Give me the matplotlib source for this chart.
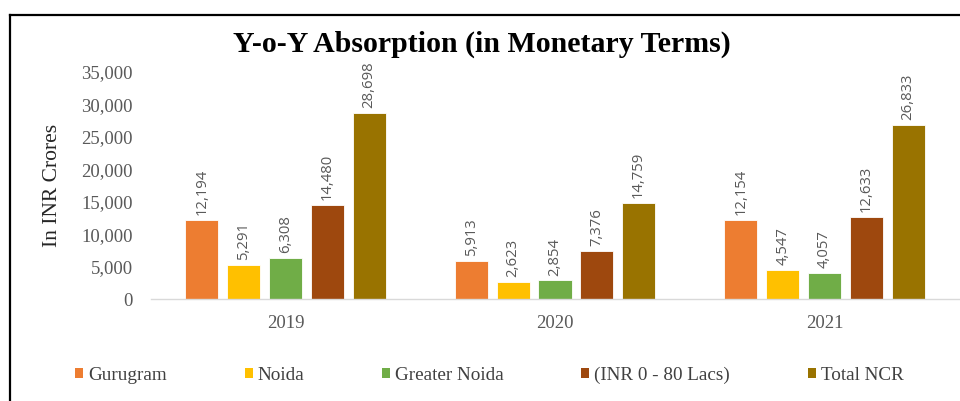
import matplotlib
matplotlib.use('Agg')
import matplotlib.pyplot as plt
from matplotlib.lines import Line2D
from matplotlib.patches import Patch
from matplotlib.ticker import FuncFormatter
import numpy as np

# chart data
years = ['2019', '2020', '2021']
series_names = ['Gurugram', 'Noida', 'Greater Noida', '(INR 0 - 80 Lacs)', 'Total NCR']
gurugram = [12194, 5913, 12154]
noida = [5291, 2623, 4547]
greater_noida = [6308, 2854, 4057]
inr_0_80 = [14480, 7376, 12633]
total_ncr = [28698, 14759, 26833]
colors = ['#ED7D31', '#FFC000', '#70AD47', '#9E480E', '#997300']

all_series = [gurugram, noida, greater_noida, inr_0_80, total_ncr]

serif = ['Liberation Serif', 'DejaVu Serif']
label_gray = '#595959'

fig = plt.figure(figsize=(9.6, 4.01), dpi=100)
ax = fig.add_axes([150.75 / 960, 1 - 299 / 401, 808.5 / 960, 227 / 401])

x = np.arange(len(years))
step = 0.155
width = 0.1225
for i, (name, vals, col) in enumerate(zip(series_names, all_series, colors)):
    pos = x + (i - 2) * step
    bars = ax.bar(pos, vals, width, color=col, edgecolor='white', linewidth=0.6, label=name)
    for b, v in zip(bars, vals):
        ax.annotate(f'{v:,}', (b.get_x() + b.get_width() / 2, v),
                    xytext=(0, 3.5), textcoords='offset points',
                    ha='center', va='bottom', rotation=90,
                    fontsize=10.7, color=label_gray, family=['Open Sans', 'DejaVu Sans'])

ax.set_xlim(-0.5, 2.5)
ax.set_ylim(0, 35000)
ax.set_yticks(range(0, 35001, 5000))
ax.yaxis.set_major_formatter(FuncFormatter(lambda v, p: f'{int(v):,}'))
ax.set_xticks(x)
ax.set_xticklabels(years)
ax.tick_params(axis='both', length=0, labelsize=13.5, labelcolor=label_gray)
ax.tick_params(axis='y', pad=12.8)
ax.tick_params(axis='x', pad=11.5)
for lbl in ax.get_xticklabels() + ax.get_yticklabels():
    lbl.set_family(serif)

for side in ['top', 'right', 'left']:
    ax.spines[side].set_visible(False)
ax.spines['bottom'].set_color('#d9d9d9')
ax.spines['bottom'].set_linewidth(1)

ax.set_ylabel('In INR Crores', fontsize=15.5, family=serif, color='#262626')
ax.yaxis.set_label_coords(-0.1098, 0.5)

fig.text(482 / 960, 1 - 52 / 401, 'Y-o-Y Absorption (in Monetary Terms)',
         ha='center', va='baseline', fontsize=21.5, fontweight='bold', family=serif)

handles = [Patch(facecolor=c, edgecolor='none') for c in colors]
fig.legend(handles, series_names, loc='center', bbox_to_anchor=(489.5 / 960, 1 - 375 / 401),
           ncol=5, frameon=False, prop={'family': serif, 'size': 13.8},
           labelcolor='#404040', handlelength=0.42, handleheight=0.42,
           handletextpad=0.26, columnspacing=4.05, borderpad=0, borderaxespad=0)

# outer frame (top and left edges visible in the reference crop)
fig.add_artist(Line2D([10 / 960, 1], [1 - 15 / 401, 1 - 15 / 401], color='black', lw=1.6))
fig.add_artist(Line2D([10 / 960, 10 / 960], [0, 1 - 15 / 401], color='black', lw=1.6))

fig.savefig('out.png', dpi=100)
